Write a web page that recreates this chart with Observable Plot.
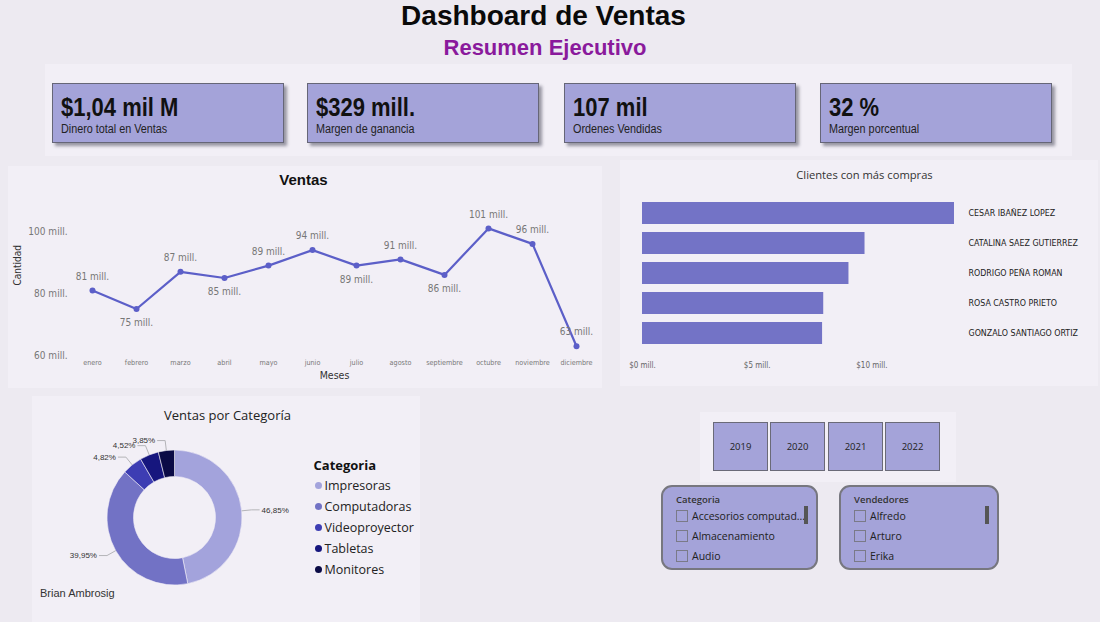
<!DOCTYPE html>
<html><head><meta charset="utf-8">
<script src="https://cdn.jsdelivr.net/npm/d3@7"></script>
<script src="https://cdn.jsdelivr.net/npm/@observablehq/plot@0.6"></script>
<style>
body{margin:0;width:1100px;height:622px;background:#edeaf1;position:relative;overflow:hidden;font-family:"Open Sans",sans-serif;}
.abs{position:absolute}
.abs svg{display:block}
.panel{position:absolute;background:#f2eff6}
.card{position:absolute;width:232px;height:60px;background:#a4a3d9;border:1px solid #666677;box-shadow:3px 3px 3px rgba(40,40,60,0.45);box-sizing:border-box}
.card .v{position:absolute;left:8px;top:9px;font-family:"Liberation Sans",Arial,sans-serif;font-weight:bold;font-size:25px;color:#111;white-space:nowrap;transform:scaleX(0.88);transform-origin:0 0}
.card .l{position:absolute;left:8px;top:38px;font-family:"Liberation Sans",Arial,sans-serif;font-size:12px;color:#222;white-space:nowrap;transform:scaleX(0.9);transform-origin:0 0}
.year{position:absolute;top:422px;width:55px;height:49px;background:#a4a3d9;border:1px solid #6a6a78;box-sizing:border-box;font-size:9.5px;color:#222;display:flex;align-items:center;justify-content:center}
.slicer{position:absolute;top:485px;height:85px;background:#a4a3d9;border:2px solid #77777f;border-radius:11px;box-sizing:border-box}
.slicer .t{position:absolute;left:13px;top:6px;font-size:9.5px;color:#333;font-weight:600}
.slicer .it{position:absolute;left:13px;font-size:10.5px;color:#222;white-space:nowrap}
.slicer .it span.cb{display:inline-block;width:10px;height:10px;border:1px solid #7a7a88;margin-right:4px;vertical-align:-2px}
.slicer .sb{position:absolute;width:4px;height:18px;background:#555}
svg{overflow:visible}
</style></head>
<body>
<div id="root"></div>
<script>
// ---------- DATA ----------
const kpiValues = ["$1,04 mil M", "$329 mill.", "107 mil", "32 %"];
const kpiLabels = ["Dinero total en Ventas", "Margen de ganancia", "Ordenes Vendidas", "Margen porcentual"];
const meses = ["enero","febrero","marzo","abril","mayo","junio","julio","agosto","septiembre","octubre","noviembre","diciembre"];
const ventasMes = [81, 75, 87, 85, 89, 94, 89, 91, 86, 101, 96, 63];
const yTicks = [60, 80, 100];
const clientes = ["CESAR IBAÑEZ LOPEZ","CATALINA SAEZ GUTIERREZ","RODRIGO PEÑA ROMAN","ROSA CASTRO PRIETO","GONZALO SANTIAGO ORTIZ"];
const comprasCliente = [13.6, 9.7, 9.0, 7.9, 7.85];
const xTicksClientes = [0, 5, 10];
const categorias = ["Impresoras","Computadoras","Videoproyector","Tabletas","Monitores"];
const porcentajes = [46.85, 39.95, 4.82, 4.52, 3.85];
const anios = ["2019","2020","2021","2022"];
const slicerCategorias = ["Accesorios computad...","Almacenamiento","Audio"];
const vendedores = ["Alfredo","Arturo","Erika"];

const root = document.getElementById("root");
function el(tag, cls, css, html){const e=document.createElement(tag); if(cls) e.className=cls; if(css) Object.assign(e.style,css); if(html!=null) e.innerHTML=html; root.appendChild(e); return e;}

// ---------- PANELS ----------
el("div","panel",{left:"45px",top:"64px",width:"1027px",height:"92px"});
el("div","panel",{left:"8px",top:"166px",width:"594px",height:"222px"});
el("div","panel",{left:"620px",top:"160px",width:"478px",height:"226px"});
el("div","panel",{left:"32px",top:"396px",width:"388px",height:"226px"});
el("div","panel",{left:"700px",top:"412px",width:"256px",height:"70px"});

// ---------- TITLES ----------
el("div","abs",{left:"0px",top:"0px",width:"1087px",textAlign:"center",fontFamily:"'Liberation Sans',Arial,sans-serif",fontWeight:"bold",fontSize:"28px",color:"#0a0a0a"},"Dashboard de Ventas");
el("div","abs",{left:"0px",top:"35px",width:"1090px",textAlign:"center",fontFamily:"'Liberation Sans',Arial,sans-serif",fontWeight:"bold",fontSize:"22px",color:"#8a1a9c"},"Resumen Ejecutivo");

// ---------- KPI CARDS ----------
const cardX = [52, 307, 564, 820];
kpiValues.forEach((v,i)=>{
  const c = el("div","card",{left:cardX[i]+"px",top:"83px"});
  const a=document.createElement("div"); a.className="v"; a.textContent=v; c.appendChild(a);
  const b=document.createElement("div"); b.className="l"; b.textContent=kpiLabels[i]; c.appendChild(b);
});

const COND = "'DejaVu Sans Condensed','DejaVu Sans',sans-serif";

// ---------- LINE CHART ----------
const lineData = meses.map((m,i)=>({mes:m, v:ventasMes[i]}));
const below = new Set(["febrero","abril","julio","septiembre"]);
const line = Plot.plot({
  width:610, height:230, marginLeft:70, marginRight:10, marginTop:55, marginBottom:35,
  style:{background:"transparent", fontFamily:COND, color:"#777", overflow:"visible"},
  x:{type:"point", domain:meses, range:[87,580], padding:0},
  y:{domain:[60,100], range:[195,71]},
  marks:[
    Plot.axisY({ticks:yTicks, tickSize:0, tickPadding:3, tickFormat:d=>d+" mill.", fontSize:10, label:null}),
    Plot.axisX({tickSize:0, tickPadding:4, fontSize:7.2, label:null}),
    Plot.line(lineData,{x:"mes", y:"v", stroke:"#5c5fc8", strokeWidth:2.2}),
    Plot.dot(lineData,{x:"mes", y:"v", fill:"#5c5fc8", r:3}),
    Plot.text(lineData.filter(d=>!below.has(d.mes)),{x:"mes", y:"v", text:d=>d.v+" mill.", dy:-14, fontSize:10, fill:"#777"}),
    Plot.text(lineData.filter(d=>below.has(d.mes)),{x:"mes", y:"v", text:d=>d.v+" mill.", dy:14, fontSize:10, fill:"#777"}),
    Plot.text(["Ventas"],{frameAnchor:"top-left", dx:233, dy:-35, lineAnchor:"middle", textAnchor:"middle", fontSize:15, fontWeight:"bold", fill:"#111", fontFamily:"'Liberation Sans',Arial,sans-serif"}),
    Plot.text(["Meses"],{frameAnchor:"bottom-left", dx:264, dy:20, lineAnchor:"middle", textAnchor:"middle", fontSize:10.5, fill:"#333"}),
    Plot.text(["Cantidad"],{frameAnchor:"left", dx:-53, lineAnchor:"middle", rotate:-90, fontSize:10, fill:"#333"})
  ]
});
el("div","abs",{left:"0px",top:"160px"}).appendChild(line);

// ---------- BAR CHART ----------
const barData = clientes.map((n,i)=>({nombre:n, v:comprasCliente[i]}));
const bars = Plot.plot({
  width:480, height:220, marginLeft:0, marginRight:132, marginTop:0, marginBottom:20,
  style:{background:"transparent", fontFamily:COND, color:"#222", overflow:"visible"},
  x:{domain:[0,10], range:[22,251.4]},
  y:{type:"band", domain:clientes, range:[38,188], paddingInner:0.2667, paddingOuter:0.1333},
  marks:[
    Plot.barX(barData,{x:"v", y:"nombre", fill:"#7373c6"}),
    Plot.axisY({anchor:"right", tickSize:0, tickPadding:0, fontSize:8.8, label:null}),
    Plot.axisX({ticks:xTicksClientes, tickSize:0, tickPadding:2, tickFormat:d=>"$"+d+" mill.", fontSize:8, color:"#666", label:null}),
    Plot.text(["Clientes con más compras"],{frameAnchor:"top-left", dx:244, dy:15, lineAnchor:"middle", textAnchor:"middle", fontSize:11.2, fill:"#333", fontFamily:"'Open Sans',sans-serif"})
  ]
});
el("div","abs",{left:"620px",top:"160px"}).appendChild(bars);

// ---------- DONUT ----------
const catData = categorias.map((c,i)=>({cat:c, p:porcentajes[i]}));
const colors = ["#a3a3dc","#7272c5","#3d3db3","#16167e","#0b0b46"];
function donut(index, scales, values, dims){
  const cx=144.5, cy=122.5, R=67.5, r0=41;
  const g = d3.create("svg:g");
  const pie = d3.pie().sort(null).value(d=>d.p)(catData);
  const arc = d3.arc().innerRadius(r0).outerRadius(R);
  const color = scales.color || d3.scaleOrdinal(categorias, colors);
  g.append("g").attr("transform",`translate(${cx},${cy})`)
    .selectAll("path").data(pie).join("path")
    .attr("d",arc).attr("fill",d=>color(d.data.cat)).attr("stroke","#f2eff6").attr("stroke-width",0.6);
  pie.forEach(d=>{
    const a=(d.startAngle+d.endAngle)/2, s=Math.sin(a), c=-Math.cos(a);
    const p1=[cx+R*s, cy+R*c], p2=[cx+(R+10)*s, cy+(R+10)*c];
    const right=s>0;
    const p3=[p2[0]+(right?8:-8), p2[1]];
    g.append("polyline").attr("points",[p1,p2,p3].map(p=>p.join(",")).join(" "))
      .attr("fill","none").attr("stroke","#b4b4b8").attr("stroke-width",1);
    g.append("text").attr("x",p3[0]+(right?2:-2)).attr("y",p3[1]).attr("dy","0.35em")
      .attr("text-anchor",right?"start":"end").attr("font-size",8).attr("fill","#333")
      .attr("font-family","'Liberation Sans',Arial,sans-serif")
      .text(d.data.p.toFixed(2).replace(".",",")+"%");
  });
  return g.node();
}
const pieChart = Plot.plot({
  width:400, height:215, margin:0,
  style:{background:"transparent", fontFamily:"'Open Sans',sans-serif", color:"#222", overflow:"visible"},
  color:{domain:categorias, range:colors},
  y:{type:"point", domain:categorias, range:[89,174], padding:0, axis:null},
  marks:[
    donut,
    Plot.dot(catData,{y:"cat", fill:"cat", frameAnchor:"left", dx:288, r:3.5}),
    Plot.text(catData,{y:"cat", text:"cat", frameAnchor:"left", dx:294, lineAnchor:"middle", textAnchor:"start", fontSize:12.5, fill:"#222"}),
    Plot.text(["Categoria"],{frameAnchor:"top-left", dx:283, dy:70, lineAnchor:"middle", textAnchor:"start", fontSize:13, fontWeight:"bold", fill:"#111"}),
    Plot.text(["Ventas por Categoría"],{frameAnchor:"top-left", dx:197, dy:20, lineAnchor:"middle", textAnchor:"middle", fontSize:13, fill:"#222"})
  ]
});
el("div","abs",{left:"30px",top:"395px"}).appendChild(pieChart);
el("div","abs",{left:"40px",top:"587px",fontFamily:"'Liberation Sans',Arial,sans-serif",fontSize:"11px",color:"#333"},"Brian Ambrosig");

// ---------- YEAR BUTTONS ----------
const yearX=[713,770,828,885];
anios.forEach((y,i)=>el("div","year",{left:yearX[i]+"px"},y));

// ---------- SLICERS ----------
function slicer(x, w, title, items, sbx){
  const s = el("div","slicer",{left:x+"px",width:w+"px"});
  s.innerHTML = `<div class="t">${title}</div>` + items.map((t,i)=>`<div class="it" style="top:${22+i*20}px"><span class="cb"></span>${t}</div>`).join("") + `<div class="sb" style="left:${sbx}px;top:19px"></div>`;
}
slicer(661,157,"Categoria",slicerCategorias,141);
slicer(839,160,"Vendedores",vendedores,144);
</script>
</body></html>
